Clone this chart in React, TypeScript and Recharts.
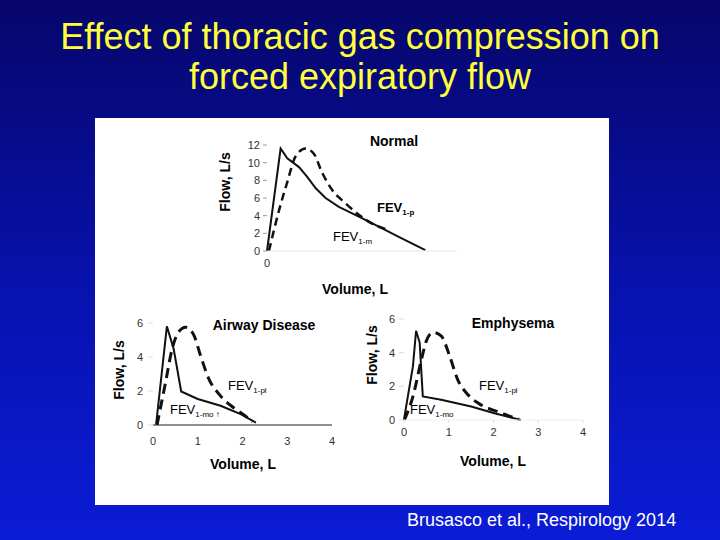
import React from "react";
import { LineChart, Line, XAxis, YAxis } from "recharts";

// Normal subject: volume (L) vs flow (L/s)
const normalVolMouth = [0, 0.43, 0.64, 1.01, 1.27, 1.54, 1.85, 2.27, 2.9, 3.53, 4.16, 5.0];
const normalFlowMouth = [0, 11.6, 10.5, 9.5, 8.4, 7.1, 6.0, 5.0, 3.9, 2.75, 1.6, 0.1];
const normalVolPleth = [0.06, 0.38, 0.64, 0.9, 1.22, 1.48, 1.75, 2.06, 2.48, 2.9, 3.32, 3.74];
const normalFlowPleth = [0, 4.6, 7.8, 10.7, 11.6, 11.0, 8.8, 6.9, 5.4, 4.1, 3.1, 2.5];

// Airway disease
const airwayVolMouth = [0.07, 0.31, 0.46, 0.63, 1.0, 1.51, 1.96, 2.3];
const airwayFlowMouth = [0.04, 5.8, 4.5, 1.97, 1.53, 1.13, 0.64, 0.14];
const airwayVolPleth = [0.09, 0.28, 0.43, 0.58, 0.73, 0.91, 1.06, 1.25, 1.48, 1.81, 2.11, 2.22];
const airwayFlowPleth = [0, 2.5, 4.5, 5.5, 5.75, 5.3, 4.1, 2.7, 1.8, 1.0, 0.44, 0.18];

// Emphysema
const emphVolMouth = [0, 0.2, 0.27, 0.35, 0.42, 0.83, 1.5, 2.02, 2.61];
const emphFlowMouth = [0.04, 3.2, 5.3, 4.6, 1.4, 1.2, 0.8, 0.4, 0];
const emphVolPleth = [0.01, 0.2, 0.39, 0.5, 0.65, 0.83, 1.02, 1.2, 1.43, 1.72, 2.09, 2.39, 2.57];
const emphFlowPleth = [0, 1.4, 3.6, 4.7, 5.2, 5.0, 3.8, 2.4, 1.5, 0.9, 0.5, 0.2, 0.04];

const normalYTicks = [0, 2, 4, 6, 8, 10, 12];
const smallYTicks = [0, 2, 4, 6];
const volTicks = [0, 1, 2, 3, 4];

const toPoints = (v: number[], f: number[]) => v.map((x, i) => ({ v: x, f: f[i] }));

const FONT = "'Liberation Sans', Arial, sans-serif";
const tickStyle = { fontSize: 11, fill: "#333", fontFamily: FONT };

const Txt = ({ x, y, children, size = 14, bold = true, rotate = false, anchor = "center" }: any) => (
    <div
        style={{
            position: "absolute",
            left: x,
            top: y,
            transform:
                (anchor === "center" ? "translate(-50%, -50%)" : "translate(0, -50%)") +
                (rotate ? " rotate(-90deg)" : ""),
            fontFamily: FONT,
            fontSize: size,
            fontWeight: bold ? "bold" : "normal",
            color: "#000",
            whiteSpace: "nowrap",
            lineHeight: 1,
        }}
    >
        {children}
    </div>
);

const Fev = ({ x, y, sub, bold = false }: any) => (
    <Txt x={x} y={y} size={13} bold={bold} anchor="left">
        FEV<sub style={{ fontSize: 8 }}>{sub}</sub>
    </Txt>
);

const App = () => {
    return (
        <div
            style={{
                position: "absolute",
                left: 0,
                top: 0,
                width: 720,
                height: 540,
                overflow: "hidden",
                background: "linear-gradient(180deg, #06066a 0%, #0812b0 55%, #0b1cd6 100%)",
                fontFamily: FONT,
            }}
        >
            <div
                style={{
                    position: "absolute",
                    left: 0,
                    top: 17,
                    width: 720,
                    textAlign: "center",
                    color: "#ffff3c",
                    fontSize: 36,
                    lineHeight: "40px",
                }}
            >
                Effect of thoracic gas compression on
                <br />
                forced expiratory flow
            </div>

            <div
                style={{
                    position: "absolute",
                    left: 95,
                    top: 118,
                    width: 514,
                    height: 387,
                    background: "#fff",
                }}
            />

            {/* Normal */}
            <div style={{ position: "absolute", left: 200, top: 130 }}>
                <LineChart width={280} height={170} margin={{ top: 15, right: 23, bottom: 19, left: 27 }}>
                    <XAxis
                        type="number"
                        dataKey="v"
                        domain={[0, 6]}
                        ticks={[0]}
                        tickLine={false}
                        axisLine={{ stroke: "#e4e4e4" }}
                        tick={tickStyle}
                        height={30}
                    />
                    <YAxis
                        type="number"
                        dataKey="f"
                        domain={[0, 12]}
                        ticks={normalYTicks}
                        axisLine={false}
                        tickLine={{ stroke: "#999" }}
                        tickSize={4}
                        tickMargin={3}
                        tick={tickStyle}
                        width={40}
                    />
                    <Line
                        data={toPoints(normalVolPleth, normalFlowPleth)}
                        dataKey="f"
                        type="monotone"
                        stroke="#111"
                        strokeWidth={2.5}
                        strokeDasharray="8 5"
                        dot={false}
                        isAnimationActive={false}
                    />
                    <Line
                        data={toPoints(normalVolMouth, normalFlowMouth)}
                        dataKey="f"
                        type="linear"
                        stroke="#111"
                        strokeWidth={2}
                        dot={false}
                        isAnimationActive={false}
                    />
                </LineChart>
            </div>
            <Txt x={394} y={141}>Normal</Txt>
            <Txt x={225} y={182} rotate>Flow, L/s</Txt>
            <Txt x={355} y={289}>Volume, L</Txt>
            <Fev x={377} y={209} sub="1-p" bold />
            <Fev x={333} y={238} sub="1-m" />

            {/* Airway disease */}
            <div style={{ position: "absolute", left: 100, top: 305 }}>
                <LineChart width={245} height={170} margin={{ top: 18, right: 13, bottom: 20, left: 23 }}>
                    <XAxis
                        type="number"
                        dataKey="v"
                        domain={[0, 4]}
                        ticks={volTicks}
                        tickLine={false}
                        axisLine={{ stroke: "#222" }}
                        tickMargin={6}
                        tick={tickStyle}
                        height={30}
                    />
                    <YAxis
                        type="number"
                        dataKey="f"
                        domain={[0, 6]}
                        ticks={smallYTicks}
                        axisLine={false}
                        tickLine={{ stroke: "#ddd" }}
                        tickSize={5}
                        tickMargin={5}
                        tick={tickStyle}
                        width={30}
                    />
                    <Line
                        data={toPoints(airwayVolPleth, airwayFlowPleth)}
                        dataKey="f"
                        type="monotone"
                        stroke="#111"
                        strokeWidth={3}
                        strokeDasharray="10 6"
                        dot={false}
                        isAnimationActive={false}
                    />
                    <Line
                        data={toPoints(airwayVolMouth, airwayFlowMouth)}
                        dataKey="f"
                        type="linear"
                        stroke="#111"
                        strokeWidth={2}
                        dot={false}
                        isAnimationActive={false}
                    />
                </LineChart>
            </div>
            <Txt x={264} y={325}>Airway Disease</Txt>
            <Txt x={119} y={370} rotate>Flow, L/s</Txt>
            <Txt x={243} y={464}>Volume, L</Txt>
            <Fev x={228} y={387} sub="1-pl" />
            <Fev x={170} y={411} sub="1-mo ↑" />

            {/* Emphysema */}
            <div style={{ position: "absolute", left: 350, top: 300 }}>
                <LineChart width={250} height={170} margin={{ top: 19, right: 17, bottom: 20, left: 24 }}>
                    <XAxis
                        type="number"
                        dataKey="v"
                        domain={[0, 4]}
                        ticks={volTicks}
                        tickLine={{ stroke: "#ddd" }}
                        tickSize={3}
                        axisLine={{ stroke: "#eee" }}
                        tickMargin={5}
                        tick={tickStyle}
                        height={30}
                    />
                    <YAxis
                        type="number"
                        dataKey="f"
                        domain={[0, 6]}
                        ticks={smallYTicks}
                        axisLine={false}
                        tickLine={{ stroke: "#ddd" }}
                        tickSize={5}
                        tickMargin={4}
                        tick={tickStyle}
                        width={30}
                    />
                    <Line
                        data={toPoints(emphVolPleth, emphFlowPleth)}
                        dataKey="f"
                        type="monotone"
                        stroke="#111"
                        strokeWidth={3}
                        strokeDasharray="10 6"
                        dot={false}
                        isAnimationActive={false}
                    />
                    <Line
                        data={toPoints(emphVolMouth, emphFlowMouth)}
                        dataKey="f"
                        type="linear"
                        stroke="#111"
                        strokeWidth={2}
                        dot={false}
                        isAnimationActive={false}
                    />
                </LineChart>
            </div>
            <Txt x={513} y={323}>Emphysema</Txt>
            <Txt x={372} y={355} rotate>Flow, L/s</Txt>
            <Txt x={493} y={461}>Volume, L</Txt>
            <Fev x={479} y={387} sub="1-pl" />
            <Fev x={410} y={411} sub="1-mo" />

            <div
                style={{
                    position: "absolute",
                    left: 407,
                    top: 510,
                    color: "#fff",
                    fontSize: 18,
                    fontFamily: FONT,
                }}
            >
                Brusasco et al., Respirology 2014
            </div>
        </div>
    );
};

export default App;
